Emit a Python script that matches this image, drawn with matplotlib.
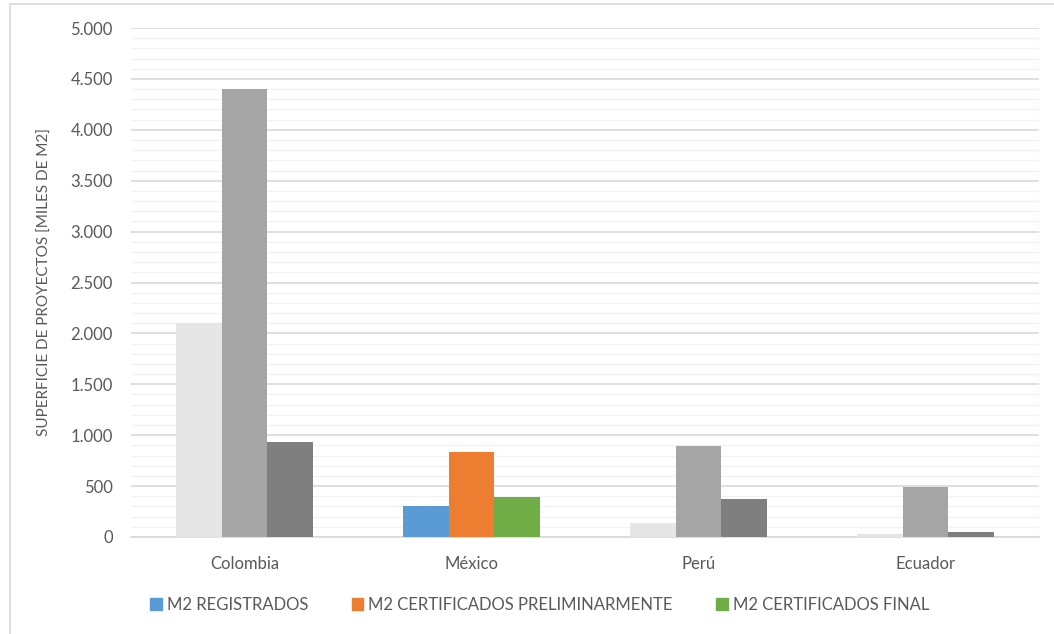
import numpy as np
import matplotlib.pyplot as plt
from matplotlib.patches import Patch, Rectangle
from matplotlib.ticker import FuncFormatter, MultipleLocator

paises = ['Colombia', 'México', 'Perú', 'Ecuador']
registrados = [2105, 305, 138, 30]
cert_prelim = [4400, 838, 891, 495]
cert_final = [930, 390, 373, 46]

series = ['M2 REGISTRADOS', 'M2 CERTIFICADOS PRELIMINARMENTE', 'M2 CERTIFICADOS FINAL']
colores = ['#5B9BD5', '#ED7D31', '#70AD47']
grises = ['#E7E6E6', '#A5A5A5', '#7F7F7F']

plt.rcParams['font.family'] = ['Lato', 'DejaVu Sans']

fig = plt.figure(figsize=(10.54, 6.34), dpi=100)
ax = fig.add_axes([0.1243, 0.153, 0.8615, 0.8028])

# marco del grafico
fig.patches.append(Rectangle((10 / 1054, -0.1), 1.2, (634 - 4) / 634 + 0.1,
                             transform=fig.transFigure, fill=False,
                             edgecolor='#D9D9D9', linewidth=1.2))

x = np.arange(len(paises))
w = 0.2
datos = [registrados, cert_prelim, cert_final]
for i, vals in enumerate(datos):
    cols = [colores[i] if p == 'México' else grises[i] for p in paises]
    ax.bar(x + (i - 1) * w, vals, w, color=cols, zorder=3)

ax.set_xlim(-0.5, len(paises) - 0.5)
ax.set_ylim(0, 5000)
ax.yaxis.set_major_locator(MultipleLocator(500))
ax.yaxis.set_minor_locator(MultipleLocator(100))
ax.yaxis.set_major_formatter(FuncFormatter(lambda v, p: f'{int(v):,}'.replace(',', '.')))
ax.grid(axis='y', which='major', color='#D9D9D9', linewidth=1.2, zorder=0)
ax.grid(axis='y', which='minor', color='#F2F2F2', linewidth=1.0, zorder=0)

for s in ['top', 'right', 'left']:
    ax.spines[s].set_visible(False)
ax.spines['bottom'].set_color('#D9D9D9')
ax.spines['bottom'].set_linewidth(1.2)
ax.tick_params(axis='both', which='both', length=0, colors='#595959', labelsize=12)
ax.tick_params(axis='x', pad=14)
ax.tick_params(axis='y', pad=13)
ax.set_xticks(x)
ax.set_xticklabels(paises)

ax.set_ylabel('SUPERFICIE DE PROYECTOS [MILES DE M2]', color='#595959', fontsize=11)
ax.yaxis.set_label_coords(-0.087, 0.5)

handles = [Patch(color=c) for c in colores]
fig.legend(handles, series, loc='center', bbox_to_anchor=(0.512, 0.046), ncol=3,
           frameon=False, fontsize=12, labelcolor='#595959', handlelength=0.7,
           handleheight=0.7, handletextpad=0.3, columnspacing=2.6)

fig.savefig('out.png', dpi=100)
